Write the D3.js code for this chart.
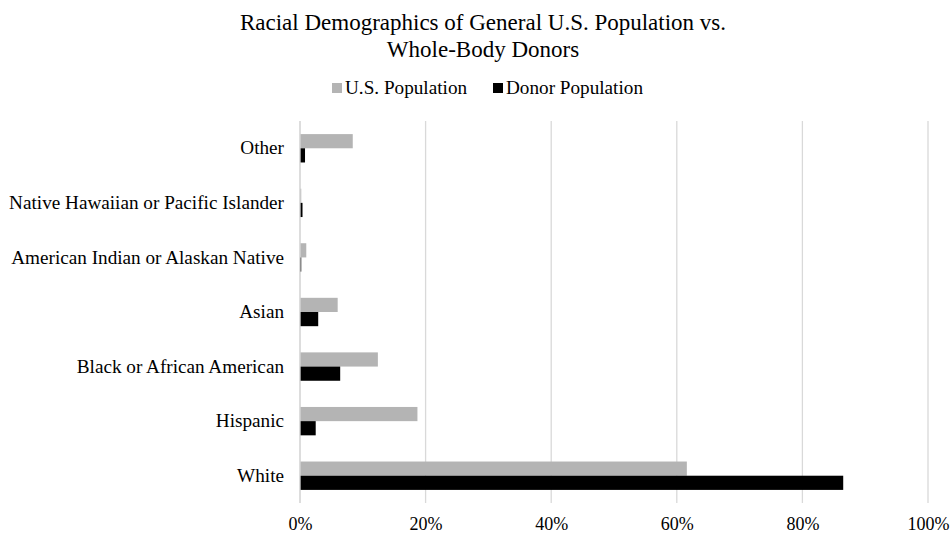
<!DOCTYPE html>
<html><head><meta charset="utf-8">
<script src="https://cdn.jsdelivr.net/npm/d3@7"></script>
<style>body{margin:0;background:#fff}svg{display:block}text{font-family:"Liberation Serif","Times New Roman",serif;fill:#000}</style>
</head><body>
<svg id="c" width="952" height="535"></svg>
<script>
const categories = ["Other","Native Hawaiian or Pacific Islander","American Indian or Alaskan Native","Asian","Black or African American","Hispanic","White"];
const usPopulation = [8.4, 0.2, 1.0, 6.0, 12.4, 18.7, 61.6];
const donorPopulation = [0.8, 0.4, 0.2, 2.9, 6.4, 2.5, 86.5];
const seriesNames = ["U.S. Population","Donor Population"];
const seriesColors = ["#b4b4b4","#000000"];
const xTicks = [0,20,40,60,80,100];

(function(){
const svg = d3.select("#c");
const pLeft = 300, pRight = 928, pTop = 121, pBottom = 503;
const x = d3.scaleLinear().domain([0,100]).range([pLeft,pRight]);
const y = d3.scaleBand().domain(categories).range([pTop,pBottom]).paddingInner(0.48).paddingOuter(0.24);
const sub = d3.scaleBand().domain([0,1]).range([0,y.bandwidth()]);

svg.append("g").selectAll("line").data(xTicks).join("line")
  .attr("x1",d=>x(d)).attr("x2",d=>x(d)).attr("y1",pTop).attr("y2",pBottom)
  .attr("stroke","#d9d9d9").attr("stroke-width",1.3);

const xa = svg.append("g").attr("transform",`translate(0,${pBottom})`)
  .call(d3.axisBottom(x).tickValues(xTicks).tickFormat(d=>d+"%").tickSize(0).tickPadding(14));
xa.select(".domain").remove();
xa.selectAll("text").attr("font-size",18).style("font-family","Liberation Serif");

const ya = svg.append("g").attr("transform",`translate(${pLeft-16},0)`)
  .call(d3.axisLeft(y).tickSize(0).tickPadding(0));
ya.select(".domain").remove();
ya.selectAll("text").attr("font-size",19.2).style("font-family","Liberation Serif");

const series = [usPopulation, donorPopulation];
series.forEach((vals,si)=>{
  svg.append("g").selectAll("rect").data(vals).join("rect")
    .attr("x",x(0)).attr("y",(d,i)=>y(categories[i])+sub(si))
    .attr("width",d=>x(d)-x(0)).attr("height",sub.bandwidth())
    .attr("fill",seriesColors[si]);
});

svg.append("line").attr("x1",x(0)).attr("x2",x(0)).attr("y1",pTop).attr("y2",pBottom).attr("stroke","#d9d9d9").attr("stroke-width",1.3);

const t = svg.append("text").attr("text-anchor","middle").attr("font-size",23);
t.append("tspan").attr("x",483).attr("y",30).text("Racial Demographics of General U.S. Population vs.");
t.append("tspan").attr("x",483).attr("y",57).text("Whole-Body Donors");

const legX = [332, 493];
seriesNames.forEach((n,i)=>{
  svg.append("rect").attr("x",legX[i]).attr("y",83).attr("width",10).attr("height",10).attr("fill",seriesColors[i]);
  svg.append("text").attr("x",legX[i]+13).attr("y",94).attr("font-size",19.2).text(n);
});
})();
</script>
</body></html>
